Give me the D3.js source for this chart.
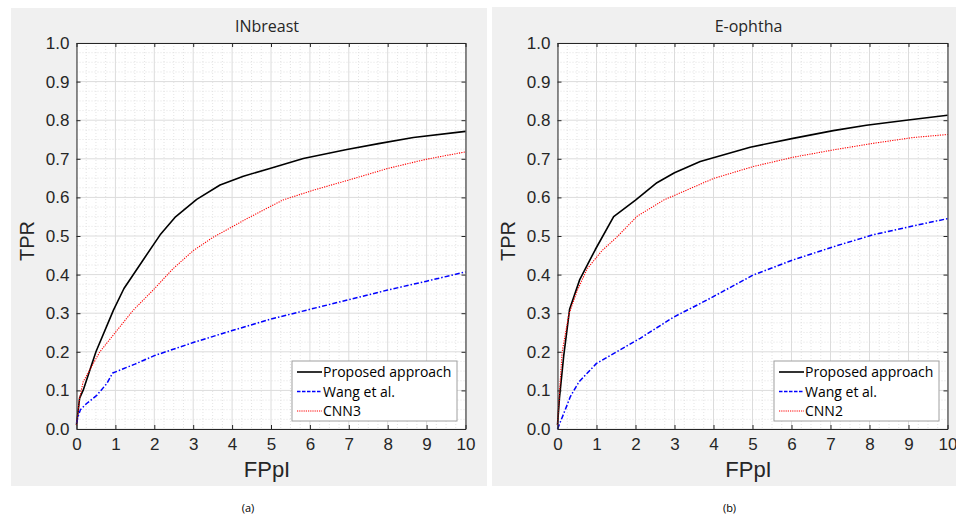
<!DOCTYPE html>
<html>
<head>
<meta charset="utf-8">
<script src="https://cdn.jsdelivr.net/npm/d3@7"></script>
<style>
  body { margin: 0; background: #fff; }
  svg { display: block; }
  .tick text { font-family: "Liberation Sans", Arial, sans-serif; font-size: 17px; fill: #262626; }
</style>
</head>
<body>
<svg id="chart" width="956" height="515"></svg>
<script>
// FPpI / TPR points
const xTicks = [0, 1, 2, 3, 4, 5, 6, 7, 8, 9, 10];
const yTicks = [0, 0.1, 0.2, 0.3, 0.4, 0.5, 0.6, 0.7, 0.8, 0.9, 1.0];
const seriesNames = ["Proposed approach", "Wang et al."];

const inbreastProposed = [[0, 0.01], [0.08, 0.08], [0.17, 0.1], [0.5, 0.2], [0.95, 0.308], [1.22, 0.364],
  [1.7, 0.436], [2.15, 0.503], [2.53, 0.548], [3.09, 0.595], [3.69, 0.632], [4.29, 0.655], [4.97, 0.675],
  [5.83, 0.701], [6.95, 0.724], [7.8, 0.74], [8.66, 0.755], [10, 0.771]];
const inbreastWang = [[0, 0.015], [0.05, 0.035], [0.1, 0.05], [0.26, 0.066], [0.52, 0.087], [0.78, 0.118],
  [0.93, 0.145], [1.5, 0.168], [2, 0.19], [3, 0.224], [4, 0.255], [5, 0.285], [6, 0.31], [7, 0.335],
  [8, 0.36], [9, 0.383], [10, 0.407]];
const inbreastCNN3 = [[0, 0.01], [0.08, 0.08], [0.17, 0.122], [0.6, 0.2], [0.99, 0.249], [1.46, 0.308],
  [1.97, 0.36], [2.49, 0.416], [3.0, 0.462], [3.5, 0.496], [4.4, 0.546], [5.3, 0.593], [6.1, 0.619],
  [7, 0.645], [8, 0.675], [9, 0.699], [10, 0.718]];

const ophthaProposed = [[0, 0.01], [0.05, 0.08], [0.16, 0.19], [0.31, 0.31], [0.57, 0.387], [0.97, 0.465],
  [1.44, 0.55], [2.0, 0.593], [2.55, 0.638], [3.0, 0.664], [3.66, 0.693], [4.94, 0.73], [6.04, 0.753],
  [7.07, 0.773], [7.92, 0.787], [8.94, 0.8], [10, 0.813]];
const ophthaWang = [[0, 0], [0.16, 0.04], [0.33, 0.084], [0.55, 0.122], [1.0, 0.17], [1.52, 0.2],
  [2.12, 0.235], [2.98, 0.29], [3.83, 0.334], [5.02, 0.399], [6.04, 0.438], [7.07, 0.472], [8.09, 0.503],
  [9.11, 0.526], [10, 0.545]];
const ophthaCNN2 = [[0, 0.01], [0.06, 0.11], [0.12, 0.2], [0.29, 0.296], [0.5, 0.357], [0.76, 0.415],
  [1.14, 0.462], [1.52, 0.497], [2.04, 0.551], [2.72, 0.593], [4.0, 0.649], [5.02, 0.68], [6.04, 0.704],
  [7.07, 0.723], [8.09, 0.74], [9.11, 0.755], [10, 0.763]];

const styles = [
  { color: "#000000", width: 1.6, dash: null, legendDash: null },
  { color: "#0000ff", width: 1.5, dash: "5,2,1.5,2", legendDash: "3.5,1.5" },
  { color: "#ff0000", width: 1.1, dash: "1.2,1.2", legendDash: "1.2,1" }
];

const panels = [
  { title: "INbreast", caption: "(a)", bg: [11, 8, 476, 478], plot: [76.5, 43, 465.5, 429],
    legend: [292, 361], series: [inbreastProposed, inbreastWang, inbreastCNN3], third: "CNN3" },
  { title: "E-ophtha", caption: "(b)", bg: [492, 7, 464, 479], plot: [557.5, 43, 947.5, 429],
    legend: [774, 361], series: [ophthaProposed, ophthaWang, ophthaCNN2], third: "CNN2" }
];

const svg = d3.select("#chart");

function drawPanel(p) {
  const [x0, y0, x1, y1] = p.plot;
  const x = d3.scaleLinear().domain([0, 10]).range([x0, x1]);
  const y = d3.scaleLinear().domain([0, 1]).range([y1, y0]);

  // grey figure background
  svg.append("rect")
    .attr("x", p.bg[0]).attr("y", p.bg[1])
    .attr("width", p.bg[2]).attr("height", p.bg[3])
    .attr("fill", "#f0f0f0");

  svg.append("rect")
    .attr("x", x0).attr("y", y0)
    .attr("width", x1 - x0).attr("height", y1 - y0)
    .attr("fill", "#fff");

  const g = svg.append("g");

  // minor grid (dotted)
  const minorX = d3.range(0, 10.001, 0.25).filter((v) => Math.abs(v - Math.round(v)) > 1e-6);
  const minorY = d3.range(0, 1.0001, 0.025).filter((v) => Math.abs(v * 10 - Math.round(v * 10)) > 1e-6);
  g.selectAll(".mx").data(minorX).enter().append("line")
    .attr("x1", (d) => x(d)).attr("x2", (d) => x(d))
    .attr("y1", y0).attr("y2", y1)
    .attr("stroke", "#dcdcdc").attr("stroke-width", 0.8).attr("stroke-dasharray", "1,2");
  g.selectAll(".my").data(minorY).enter().append("line")
    .attr("y1", (d) => y(d)).attr("y2", (d) => y(d))
    .attr("x1", x0).attr("x2", x1)
    .attr("stroke", "#dcdcdc").attr("stroke-width", 0.8).attr("stroke-dasharray", "1,2");

  // major grid
  g.selectAll(".gx").data(xTicks).enter().append("line")
    .attr("x1", (d) => x(d)).attr("x2", (d) => x(d))
    .attr("y1", y0).attr("y2", y1)
    .attr("stroke", "#dcdcdc").attr("stroke-width", 1);
  g.selectAll(".gy").data(yTicks).enter().append("line")
    .attr("y1", (d) => y(d)).attr("y2", (d) => y(d))
    .attr("x1", x0).attr("x2", x1)
    .attr("stroke", "#dcdcdc").attr("stroke-width", 1);

  // curves
  const line = d3.line().x((d) => x(d[0])).y((d) => y(d[1]));
  p.series.forEach((s, i) => {
    g.append("path")
      .datum(s)
      .attr("d", line)
      .attr("fill", "none")
      .attr("stroke", styles[i].color)
      .attr("stroke-width", styles[i].width)
      .attr("stroke-dasharray", styles[i].dash)
      .attr("stroke-linejoin", "round");
  });

  // axes, ticks pointing inward on all four sides
  const axisStyle = (sel) => {
    sel.select(".domain").attr("stroke", "#262626").attr("stroke-width", 1);
    sel.selectAll(".tick line").attr("stroke", "#262626");
  };
  svg.append("g").attr("transform", `translate(0,${y1})`)
    .call(d3.axisBottom(x).tickValues(xTicks).tickSizeInner(-4).tickSizeOuter(0).tickPadding(9))
    .call(axisStyle);
  svg.append("g").attr("transform", `translate(${x0},0)`)
    .call(d3.axisLeft(y).tickValues(yTicks).tickFormat(d3.format(".1f")).tickSizeInner(-4).tickSizeOuter(0).tickPadding(7))
    .call(axisStyle);
  svg.append("g").attr("transform", `translate(0,${y0})`)
    .call(d3.axisTop(x).tickValues(xTicks).tickFormat("").tickSizeInner(-4).tickSizeOuter(0))
    .call(axisStyle);
  svg.append("g").attr("transform", `translate(${x1},0)`)
    .call(d3.axisRight(y).tickValues(yTicks).tickFormat("").tickSizeInner(-4).tickSizeOuter(0))
    .call(axisStyle);

  const cx = (x0 + x1) / 2;
  svg.append("text")
    .attr("x", cx - 4).attr("y", 32)
    .attr("text-anchor", "middle")
    .attr("font-family", "'Open Sans', sans-serif").attr("font-size", 16)
    .attr("fill", "#262626")
    .text(p.title);

  svg.append("text")
    .attr("x", cx - 4).attr("y", 477)
    .attr("text-anchor", "middle")
    .attr("font-family", "'Liberation Sans', Arial, sans-serif").attr("font-size", 22)
    .attr("fill", "#262626")
    .text("FPpI");

  svg.append("text")
    .attr("transform", `translate(${x0 - 43},${(y0 + y1) / 2 + 5}) rotate(-90)`)
    .attr("text-anchor", "middle")
    .attr("font-family", "'Liberation Sans', Arial, sans-serif").attr("font-size", 20)
    .attr("fill", "#262626")
    .text("TPR");

  svg.append("text")
    .attr("x", cx - 23).attr("y", 512)
    .attr("text-anchor", "middle")
    .attr("font-family", "'Open Sans', sans-serif").attr("font-size", 11)
    .attr("fill", "#000")
    .text(p.caption);

  // legend
  const [lx, ly] = p.legend;
  const names = [...seriesNames, p.third];
  const lg = svg.append("g").attr("transform", `translate(${lx},${ly})`);
  lg.append("rect")
    .attr("width", 165).attr("height", 60)
    .attr("fill", "#fff").attr("stroke", "#a0a0a0").attr("stroke-width", 1);
  names.forEach((name, i) => {
    const yy = 11 + i * 19.5;
    lg.append("line")
      .attr("x1", 5).attr("x2", 30).attr("y1", yy).attr("y2", yy)
      .attr("stroke", styles[i].color)
      .attr("stroke-width", styles[i].width)
      .attr("stroke-dasharray", styles[i].legendDash);
    lg.append("text")
      .attr("x", 31).attr("y", yy + 5)
      .attr("font-family", "'Open Sans', sans-serif").attr("font-size", 14)
      .attr("fill", "#000")
      .text(name);
  });
}

panels.forEach(drawPanel);
</script>
</body>
</html>
